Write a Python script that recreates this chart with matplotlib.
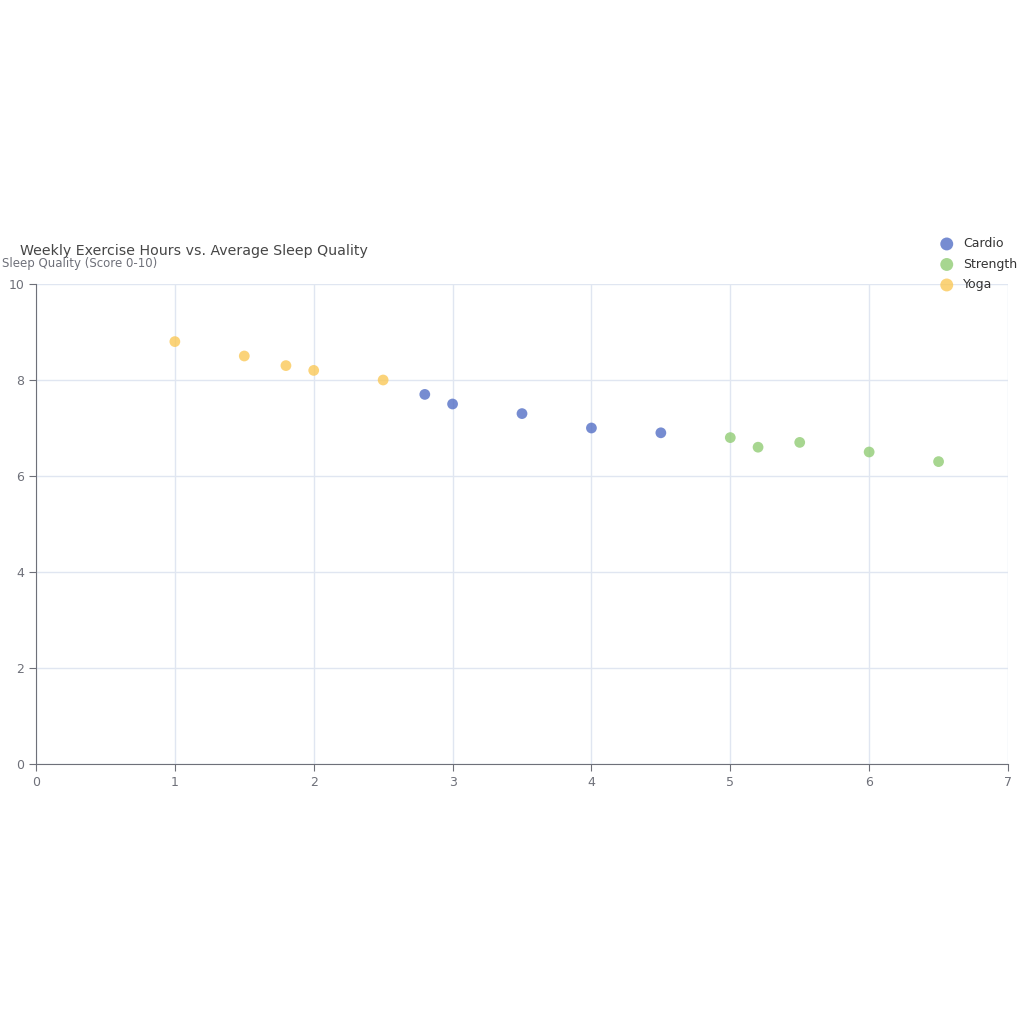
import matplotlib
matplotlib.use("Agg")
import matplotlib.pyplot as plt

yoga_x = [1, 1.5, 1.8, 2, 2.5]
yoga_y = [8.8, 8.5, 8.3, 8.2, 8.0]
cardio_x = [2.8, 3, 3.5, 4, 4.5]
cardio_y = [7.7, 7.5, 7.3, 7.0, 6.9]
strength_x = [5, 5.2, 5.5, 6, 6.5]
strength_y = [6.8, 6.6, 6.7, 6.5, 6.3]

fig = plt.figure(figsize=(10.24, 10.24), dpi=100)
ax = fig.add_axes([36/1024, 1-764/1024, 972/1024, 480/1024])
series = [("Cardio", cardio_x, cardio_y, "#5470c6"),
          ("Strength", strength_x, strength_y, "#91cc75"),
          ("Yoga", yoga_x, yoga_y, "#fac858")]
for name, xs, ys, c in series:
    ax.scatter(xs, ys, s=60, color=c, alpha=0.8, edgecolors="none", zorder=3, label=name)
ax.set_xlim(0, 7)
ax.set_ylim(0, 10)
ax.set_xticks(range(0, 8))
ax.set_yticks(range(0, 11, 2))
ax.grid(True, color="#e0e6f1", linewidth=1)
ax.set_axisbelow(True)
for s in ["top", "right"]:
    ax.spines[s].set_visible(False)
for s in ["left", "bottom"]:
    ax.spines[s].set_color("#6e7079")
ax.tick_params(colors="#6e7079", labelsize=9, length=5, color="#6e7079")
fig.text(20/1024, 1-251/1024, "Weekly Exercise Hours vs. Average Sleep Quality",
         fontsize=10.2, color="#464646", va="center", ha="left")
fig.text(2/1024, 1-263/1024, "Sleep Quality (Score 0-10)", fontsize=8.5,
         color="#6e7079", va="center", ha="left")
leg = fig.legend(loc="upper left", bbox_to_anchor=(923/1024, 1-226/1024), frameon=False,
                 fontsize=9, labelcolor="#333333", markerscale=1.2, handletextpad=0.3,
                 labelspacing=0.6)
fig.savefig("out.png", dpi=100, facecolor="white")
